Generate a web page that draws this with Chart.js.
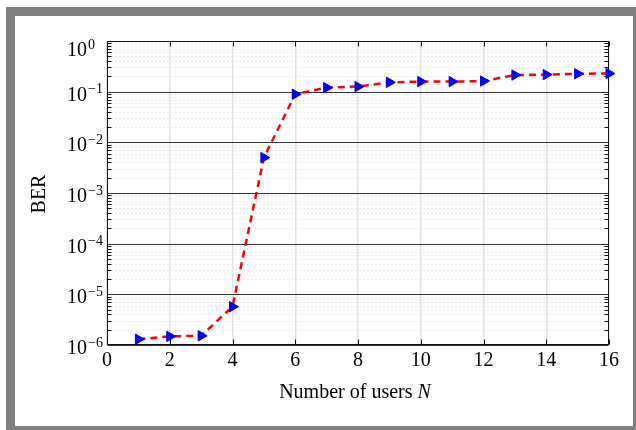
<!DOCTYPE html>
<html>
<head>
<meta charset="utf-8">
<script src="https://cdn.jsdelivr.net/npm/chart.js@4.4.0/dist/chart.umd.min.js"></script>
<style>
body { margin: 0; background: #fff; }
#frame { position: absolute; left: 6px; top: 7px; width: 630px; height: 423px; background: #808080; }
#panel { position: absolute; left: 15px; top: 16px; width: 618px; height: 410px; background: #fff; }
#wrap { position: absolute; left: 0; top: 0; width: 636px; height: 430px; }
</style>
</head>
<body>
<div id="frame"></div>
<div id="panel"></div>
<div id="wrap"><canvas id="myChart"></canvas></div>
<script>
// number of users N and the measured BER
const users = [1, 2, 3, 4, 5, 6, 7, 8, 9, 10, 11, 12, 13, 14, 15, 16]
const ber = [1.3e-6, 1.48e-6, 1.52e-6, 5.7e-6, 5.0e-3, 0.089, 0.12, 0.126, 0.153, 0.158, 0.158, 0.162, 0.213, 0.217, 0.226, 0.228]
const xTicks = [0, 2, 4, 6, 8, 10, 12, 14, 16]
const yExponents = [0, -1, -2, -3, -4, -5, -6]

const serif = "'Liberation Serif', 'Times New Roman', serif"
var chartField = document.querySelector("#myChart").getContext("2d")

// grid, box, ticks and labels drawn like the matlab style figure
const axesPlugin = {
    id: 'axesPlugin',
    beforeDatasetsDraw(chart) {
        const ctx = chart.ctx
        const a = chart.chartArea
        const xs = chart.scales.x
        const ys = chart.scales.y
        const L = Math.round(a.left) + 0.5, R = Math.round(a.right) - 0.5
        const T = Math.round(a.top) + 0.5, B = Math.round(a.bottom) - 0.5
        ctx.save()

        // minor dotted lines
        ctx.strokeStyle = '#d6d6d6'
        ctx.lineWidth = 1
        ctx.setLineDash([1, 3])
        yExponents.forEach(e => {
            for (let m = 2; m < 10; m++) {
                const v = m * Math.pow(10, e - 1)
                if (v < ys.min) continue
                const y = Math.round(ys.getPixelForValue(v)) + 0.5
                ctx.beginPath(); ctx.moveTo(L, y); ctx.lineTo(R, y); ctx.stroke()
            }
        })
        ctx.setLineDash([])

        // major decade lines
        ctx.strokeStyle = '#333'
        yExponents.forEach(e => {
            const y = Math.round(ys.getPixelForValue(Math.pow(10, e))) + 0.5
            ctx.beginPath(); ctx.moveTo(L, y); ctx.lineTo(R, y); ctx.stroke()
        })

        // minor ticks on left and right
        ctx.strokeStyle = '#111'
        yExponents.forEach(e => {
            for (let m = 2; m < 10; m++) {
                const v = m * Math.pow(10, e - 1)
                if (v < ys.min) continue
                const y = Math.round(ys.getPixelForValue(v)) + 0.5
                ctx.beginPath(); ctx.moveTo(L, y); ctx.lineTo(L + 4, y); ctx.stroke()
                ctx.beginPath(); ctx.moveTo(R, y); ctx.lineTo(R - 4, y); ctx.stroke()
            }
        })

        // x ticks top and bottom
        xTicks.forEach(t => {
            const x = Math.round(xs.getPixelForValue(t)) + 0.5
            ctx.beginPath(); ctx.moveTo(x, T); ctx.lineTo(x, T + 5); ctx.stroke()
            ctx.beginPath(); ctx.moveTo(x, B); ctx.lineTo(x, B - 5); ctx.stroke()
        })

        // box
        ctx.strokeStyle = '#111'
        ctx.strokeRect(L, T, R - L, B - T)

        // y labels 10^e
        ctx.fillStyle = '#000'
        ctx.textBaseline = 'alphabetic'
        yExponents.forEach(e => {
            const y = ys.getPixelForValue(Math.pow(10, e))
            const base = Math.max(y + 9, a.top + 15)
            ctx.font = '20px ' + serif
            ctx.textAlign = 'right'
            ctx.fillText('10', 87, base)
            ctx.font = '14px ' + serif
            ctx.textAlign = 'left'
            ctx.fillText(e === 0 ? '0' : '\u2212' + (-e), 88, base - 7.5)
        })

        // axis titles
        const t1 = 'Number of users '
        ctx.font = '20px ' + serif
        const w1 = ctx.measureText(t1).width
        ctx.font = 'italic 20px ' + serif
        const w2 = ctx.measureText('N').width
        const x0 = 355 - (w1 + w2) / 2
        ctx.textAlign = 'left'
        ctx.font = '20px ' + serif
        ctx.fillText(t1, x0, 398)
        ctx.font = 'italic 20px ' + serif
        ctx.fillText('N', x0 + w1, 398)

        ctx.translate(45, 194)
        ctx.rotate(-Math.PI / 2)
        ctx.font = '20px ' + serif
        ctx.textAlign = 'center'
        ctx.fillText('BER', 0, 0)
        ctx.restore()
    }
}

var myChart = new Chart(chartField, {
    type: 'line',
    data: {
        datasets: [{
            label: 'BER',
            data: users.map((u, i) => ({ x: u, y: ber[i] })),
            borderColor: '#ff0000',
            borderWidth: 2.5,
            borderDash: [7, 5],
            tension: 0,
            fill: false,
            clip: false,
            pointStyle: 'triangle',
            rotation: 90,
            pointRadius: 6,
            pointBackgroundColor: '#0000ff',
            pointBorderColor: '#0000ff',
            pointBorderWidth: 1
        }]
    },
    options: {
        responsive: true,
        maintainAspectRatio: false,
        animation: false,
        devicePixelRatio: 1,
        layout: { padding: { top: 41, right: 27, left: 0, bottom: 0 } },
        plugins: { legend: { display: false }, tooltip: { enabled: false } },
        scales: {
            x: {
                type: 'linear',
                min: 0,
                max: 16,
                afterBuildTicks: s => { s.ticks = xTicks.map(v => ({ value: v })) },
                afterFit: s => { s.height = 85 },
                grid: { color: '#e4e4e4', lineWidth: 1.5, drawTicks: false },
                border: { display: false },
                ticks: { color: '#000', padding: 4, maxRotation: 0, font: { family: serif, size: 20 } }
            },
            y: {
                type: 'logarithmic',
                min: 1e-6,
                max: 1,
                afterFit: s => { s.width = 107 },
                grid: { display: false },
                border: { display: false },
                ticks: { display: false }
            }
        }
    },
    plugins: [axesPlugin]
})
</script>
</body>
</html>
